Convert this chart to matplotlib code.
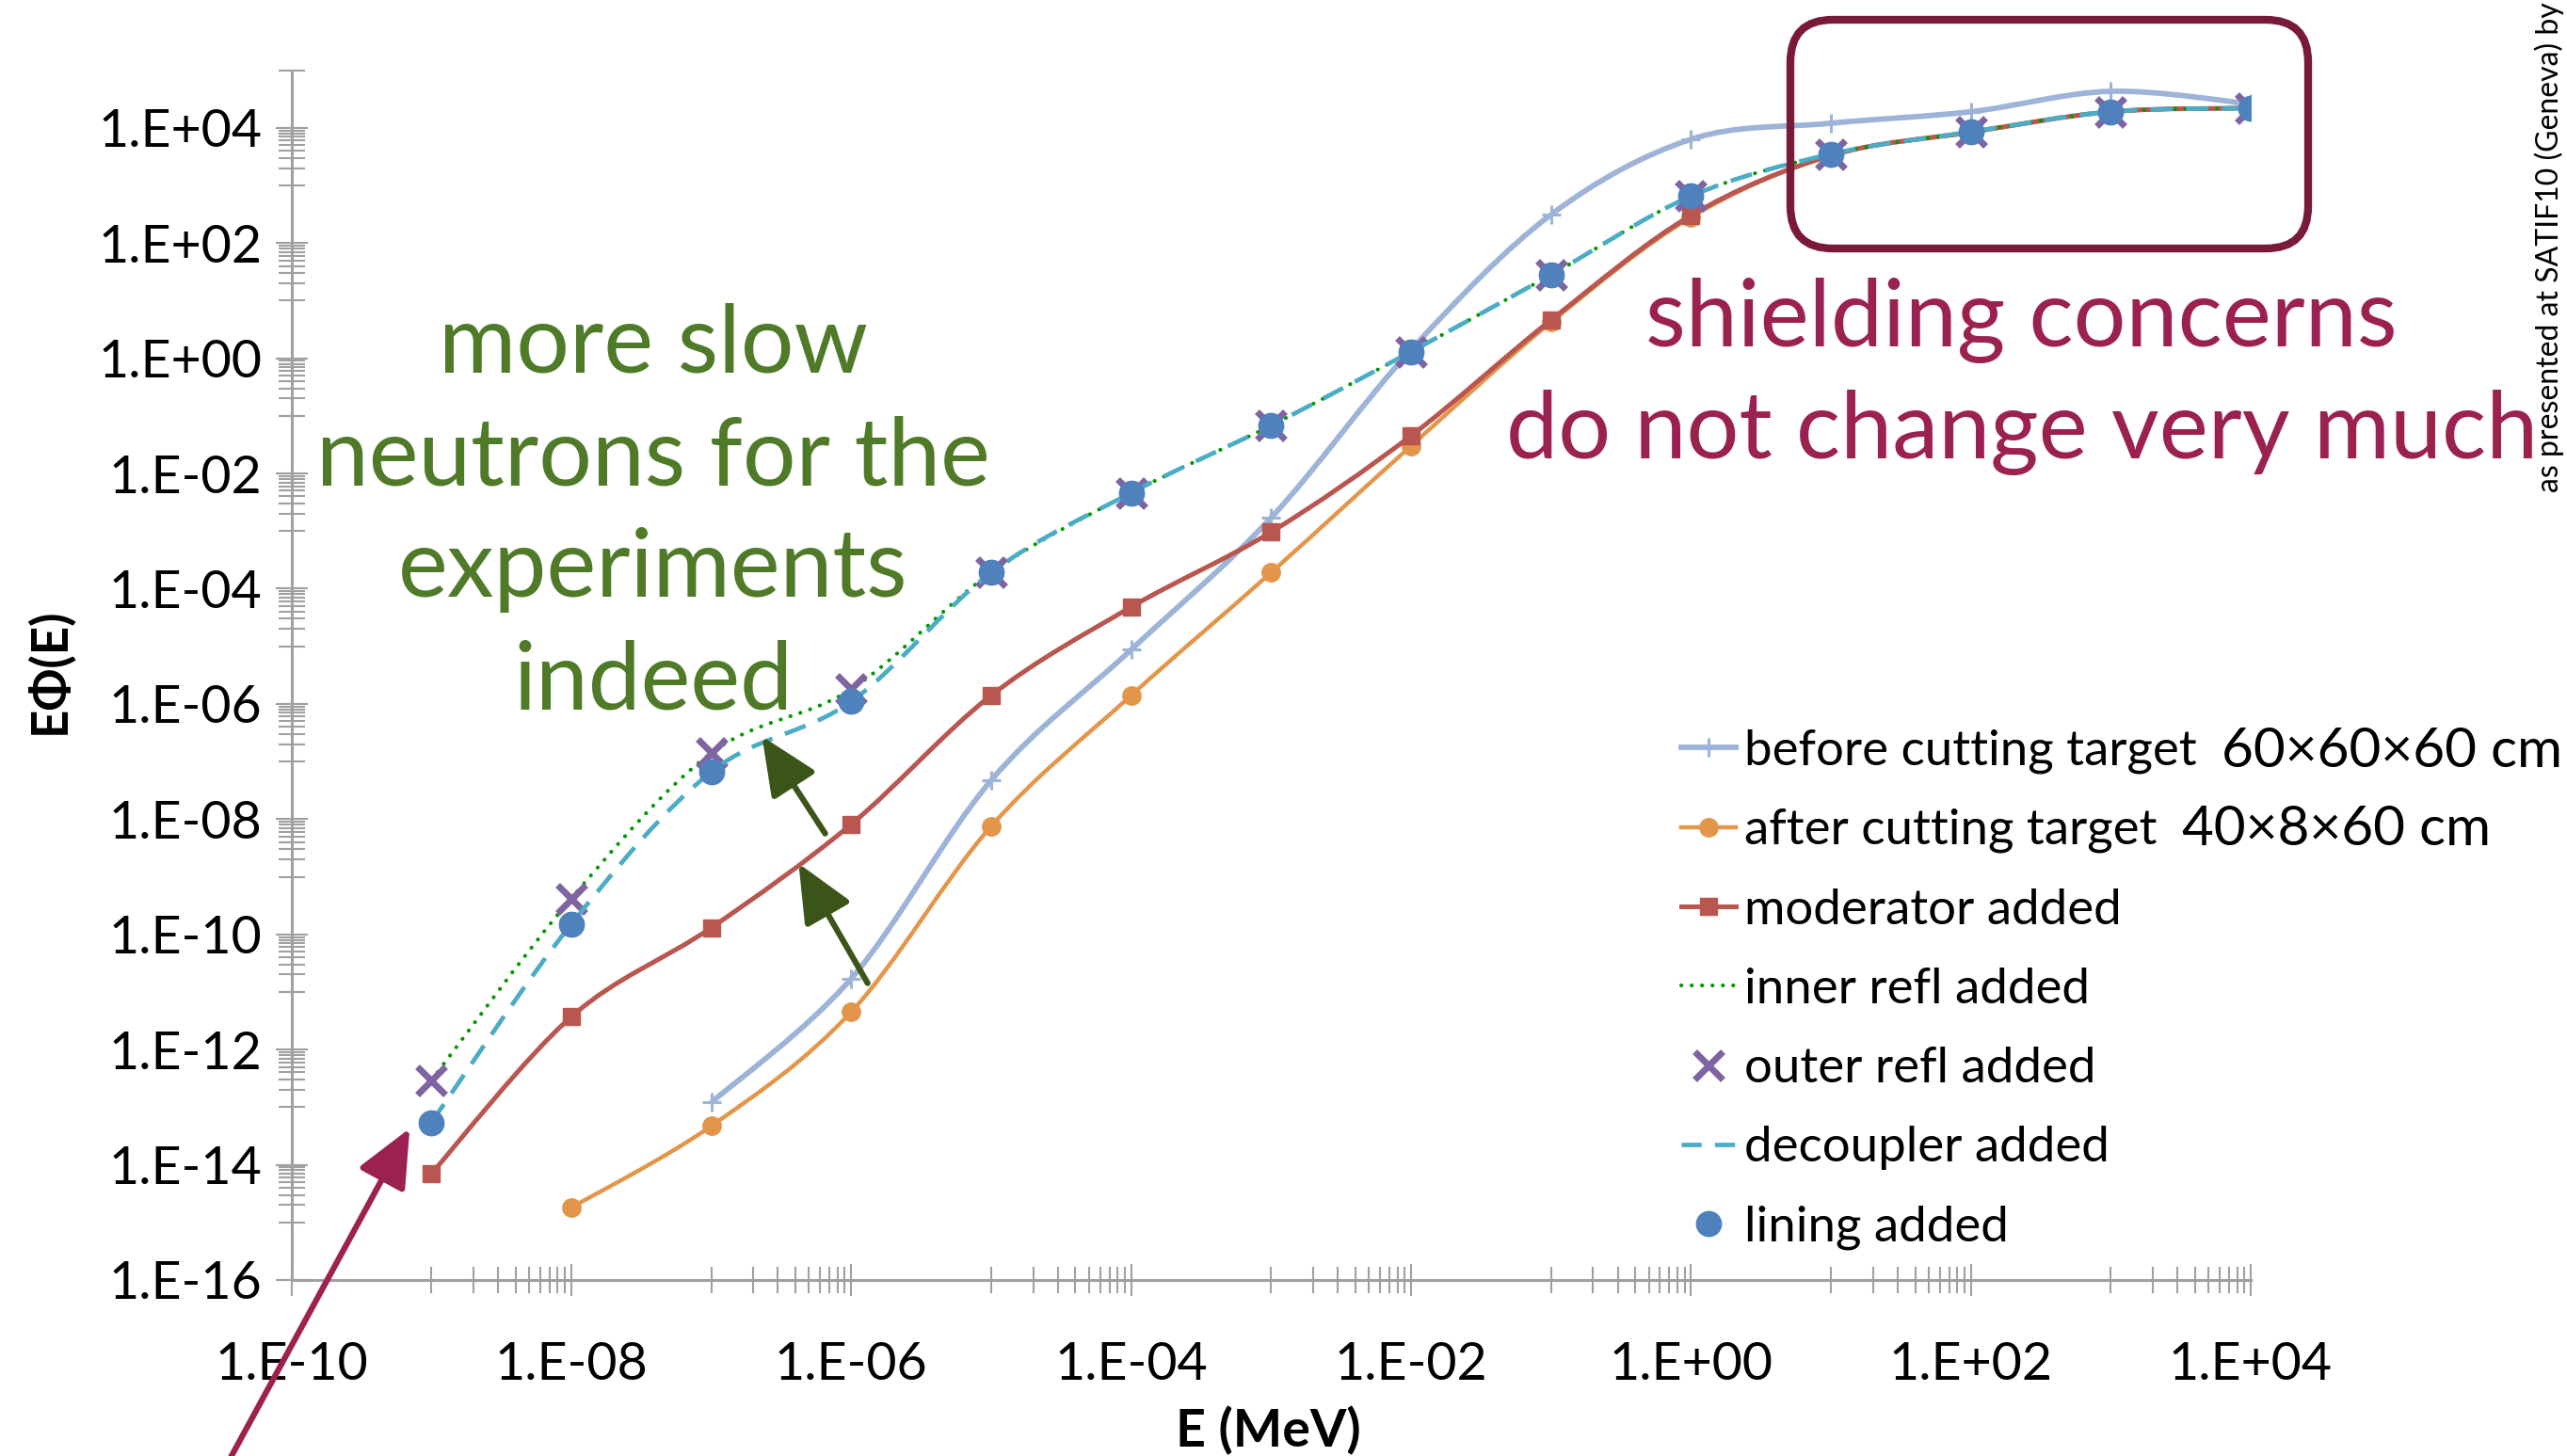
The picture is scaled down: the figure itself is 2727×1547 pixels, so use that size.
import numpy as np
import matplotlib
matplotlib.use('Agg')
import matplotlib.pyplot as plt
import matplotlib.transforms as mtransforms
from matplotlib.path import Path
from matplotlib.patches import PathPatch, FancyBboxPatch, FancyArrowPatch
from matplotlib.lines import Line2D
from matplotlib.ticker import FixedLocator, FuncFormatter, NullFormatter

plt.rcParams['font.family'] = ['Lato', 'DejaVu Sans']

# Energy grid (MeV), one point per decade
energy = [1e-9, 1e-8, 1e-7, 1e-6, 1e-5, 1e-4, 1e-3, 1e-2, 1e-1, 1e0, 1e1, 1e2, 1e3, 1e4]

# E*Phi(E)
before_E = energy[2:]
before = [1.2e-13, 1.7e-11, 4.7e-8, 8.7e-6, 1.7e-3, 1.4, 3.1e2, 6.3e3, 1.2e4, 1.9e4, 4.3e4, 2.6e4]

after_E = energy[1:]
after = [1.8e-15, 4.7e-14, 4.5e-12, 7.5e-9, 1.4e-6, 1.9e-4, 3.0e-2, 4.2, 2.8e2, 3.3e3, 8.3e3, 1.9e4, 2.2e4]

moderator_E = energy
moderator = [7e-15, 3.7e-12, 1.3e-10, 8.1e-9, 1.4e-6, 4.8e-5, 9.6e-4, 4.5e-2, 4.6, 3.0e2, 3.3e3, 8.4e3, 1.9e4, 2.2e4]

inner_E = energy
inner = [2.9e-13, 4.2e-10, 1.4e-7, 1.8e-6, 1.9e-4, 4.6e-3, 6.8e-2, 1.3, 28, 6.5e2, 3.5e3, 8.5e3, 1.9e4, 2.2e4]

outer_E = energy
outer = inner

decoupler_E = energy
decoupler = [5.4e-14, 1.5e-10, 6.6e-8, 1.1e-6, 1.9e-4, 4.6e-3, 6.8e-2, 1.3, 28, 6.5e2, 3.5e3, 8.5e3, 1.9e4, 2.2e4]

lining_E = energy
lining = decoupler

labels = ['before cutting target', 'after cutting target', 'moderator added',
          'inner refl added', 'outer refl added', 'decoupler added', 'lining added']

c_before = '#9db3d7'
c_after = '#e3964a'
c_mod = '#b9564f'
c_inner = '#009a00'
c_outer = '#8064a2'
c_dec = '#4bacc6'
c_lin = '#4f81bd'


def smooth_path(xs, ys):
    # Excel-like smoothed line: Catmull-Rom bezier in log space
    p = np.column_stack([np.log10(xs), np.log10(ys)])
    n = len(p)
    verts = [p[0]]
    codes = [Path.MOVETO]
    for i in range(n - 1):
        p0 = p[i - 1] if i > 0 else p[i]
        p1 = p[i]
        p2 = p[i + 1]
        p3 = p[i + 2] if i + 2 < n else p[i + 1]
        verts += [p1 + (p2 - p0) / 6, p2 - (p3 - p1) / 6, p2]
        codes += [Path.CURVE4] * 3
    return Path(10 ** np.array(verts), codes)


fig = plt.figure(figsize=(27.27, 15.47), dpi=100)
ax = fig.add_axes([0.1135, 0.1209, 0.7633, 0.8309])
ax.set_xscale('log')
ax.set_yscale('log')
ax.set_xlim(1e-10, 1e4)
ax.set_ylim(1e-16, 1e5)

# lines
ax.add_patch(PathPatch(smooth_path(before_E, before), fill=False, edgecolor=c_before, lw=4.2, zorder=2))
ax.plot(before_E, before, ls='none', marker='+', ms=14, mew=2.2, color=c_before, zorder=2.1)

ax.add_patch(PathPatch(smooth_path(after_E, after), fill=False, edgecolor=c_after, lw=3.2, zorder=3))
ax.plot(after_E, after, ls='none', marker='o', ms=14, color=c_after, zorder=3.1)

ax.add_patch(PathPatch(smooth_path(moderator_E, moderator), fill=False, edgecolor=c_mod, lw=3.6, zorder=4))
ax.plot(moderator_E, moderator, ls='none', marker='s', ms=13.5, color=c_mod, zorder=4.1)

ax.add_patch(PathPatch(smooth_path(inner_E, inner), fill=False, edgecolor=c_inner, lw=3.0,
                       linestyle=(0, (0.05, 2.6)), capstyle='round', zorder=5))

ax.plot(outer_E, outer, ls='none', marker='x', ms=22, mew=5, color=c_outer, zorder=6)

ax.add_patch(PathPatch(smooth_path(decoupler_E, decoupler), fill=False, edgecolor=c_dec, lw=3.4,
                       linestyle=(0, (5.0, 3.0)), zorder=7))

ax.plot(lining_E, lining, ls='none', marker='o', ms=19, color=c_lin, zorder=8)

# axes in Excel style
for s in ['top', 'right']:
    ax.spines[s].set_visible(False)
for s in ['left', 'bottom']:
    ax.spines[s].set_color('#a0a0a0')
    ax.spines[s].set_linewidth(2.2)

xmaj = [10.0 ** k for k in range(-10, 5, 2)]
ymaj = [10.0 ** k for k in range(-16, 5, 2)]
xmin = [m * 10.0 ** k for k in range(-9, 4, 2) for m in range(1, 10)]
ymin = [m * 10.0 ** k for k in range(-15, 4, 2) for m in range(1, 10)] + [1e5]
ax.xaxis.set_major_locator(FixedLocator(xmaj))
ax.yaxis.set_major_locator(FixedLocator(ymaj))
ax.xaxis.set_minor_locator(FixedLocator(xmin))
ax.yaxis.set_minor_locator(FixedLocator(ymin))
fmt = FuncFormatter(lambda v, _: '1.E%+03d' % int(round(np.log10(v))))
ax.xaxis.set_major_formatter(fmt)
ax.yaxis.set_major_formatter(fmt)
ax.xaxis.set_minor_formatter(NullFormatter())
ax.yaxis.set_minor_formatter(NullFormatter())
ax.tick_params(which='major', direction='inout', length=25, width=1.5, color='#a0a0a0', labelsize=40)
ax.tick_params(which='minor', direction='inout', length=20, width=1.5, color='#a0a0a0')
ax.tick_params(axis='y', which='major', pad=10)
ax.tick_params(axis='x', which='major', pad=34)

fig.text(0.019, 0.539, 'EΦ(E)', rotation=90, ha='center', va='center', fontsize=38, fontweight='bold')
fig.text(0.494, 0.0175, 'E (MeV)', ha='center', va='center', fontsize=40, fontweight='bold')

# legend
handles = [
    Line2D([], [], color=c_before, lw=4.2, marker='+', ms=14, mew=2.2),
    Line2D([], [], color=c_after, lw=3.2, marker='o', ms=14),
    Line2D([], [], color=c_mod, lw=3.6, marker='s', ms=13.5),
    Line2D([], [], color=c_inner, lw=3.0, ls=(0, (0.05, 2.6)), dash_capstyle='round'),
    Line2D([], [], color=c_outer, ls='none', marker='x', ms=22, mew=5),
    Line2D([], [], color=c_dec, lw=3.4, ls=(0, (4.5, 3.0))),
    Line2D([], [], color=c_lin, ls='none', marker='o', ms=19),
]
fig.legend(handles, labels, loc='upper left', bbox_to_anchor=(0.655, 0.4995), frameon=False,
           fontsize=38, handlelength=1.1, handletextpad=0.16, labelspacing=0.705,
           borderpad=0, borderaxespad=0)
fig.text(0.8654, 0.4840, '60×60×60 cm', ha='left', va='center', fontsize=42)
fig.text(0.850, 0.4300, '40×8×60 cm', ha='left', va='center', fontsize=42)

# annotations
green = '#4f7a28'
magenta = '#9b2150'
fig.text(0.2545, 0.647, 'more slow\nneutrons for the\nexperiments\nindeed', ha='center', va='center',
         fontsize=72, color=green, linespacing=1.38)
fig.text(0.7876, 0.7412, 'shielding concerns\ndo not change very much', ha='center', va='center',
         fontsize=71, color=magenta, linespacing=1.38)
fig.text(0.993, 0.662, 'as presented at SATIF10 (Geneva) by', rotation=90, ha='center', va='bottom',
         fontsize=23, color='black')

box = FancyBboxPatch((1902, 1547 - 264), 550, 243, boxstyle='round,pad=0,rounding_size=45',
                     transform=mtransforms.IdentityTransform(), fill=False,
                     edgecolor='#7a1a3a', lw=6)
fig.add_artist(box)

arrow_kw = dict(arrowstyle='-|>,head_length=1.9,head_width=0.85', lw=4.5, mutation_scale=20,
                transform=fig.transFigure)
fig.add_artist(FancyArrowPatch((0.084, -0.02), (0.1601, 0.2266), color=magenta, **arrow_kw))
fig.add_artist(FancyArrowPatch((0.322, 0.426), (0.2963, 0.4958), color='#3b5518', **arrow_kw))
fig.add_artist(FancyArrowPatch((0.3385, 0.3232), (0.3106, 0.4085), color='#3b5518', **arrow_kw))

fig.savefig('out.png', dpi=100)
